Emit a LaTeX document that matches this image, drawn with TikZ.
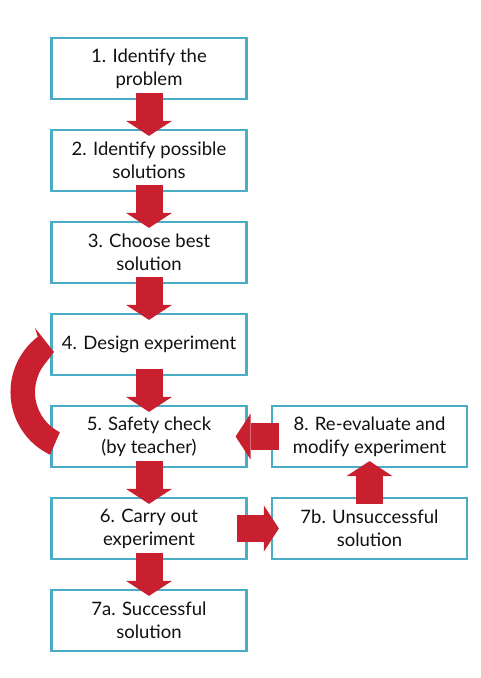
\documentclass[tikz,border=0pt]{standalone}
\usepackage{fontspec}
\setmainfont{Lato}
\usetikzlibrary{arrows.meta,calc}
\definecolor{boxblue}{HTML}{4BACC6}
\definecolor{arrred}{HTML}{C8202F}
\definecolor{txt}{HTML}{111111}
\begin{document}
\begin{tikzpicture}[x=1pt,y=1pt,
  stepbox/.style={draw=boxblue, line width=2.2pt, fill=white, minimum width=195pt,
    minimum height=61pt, inner sep=0pt, align=center,
    font=\fontsize{18.5}{23}\selectfont, text=txt},
  bigarrow/.style={draw=arrred, line width=27pt,
    -{Triangle[width=46pt,length=15pt,line width=0pt]}},
  curvearrow/.style={fill=arrred}
]
\useasboundingbox (0,0) rectangle (480,678);
\node[stepbox] (b1) at (149,609.5) {1. Identify the\\problem};
\node[stepbox] (b2) at (149,517.5) {2. Identify possible\\solutions};
\node[stepbox] (b3) at (149,425.5) {3. Choose best\\solution};
\node[stepbox] (b4) at (149,333.5) {4. Design experiment};
\node[stepbox] (b5) at (149,241.5) {5. Safety check\\(by teacher)};
\node[stepbox] (b6) at (149,149.5) {6. Carry out\\experiment};
\node[stepbox] (b7a) at (149,57.5) {7a. Successful\\solution};
\node[stepbox] (b8) at (369.5,241.5) {8. Re-evaluate and\\modify experiment};
\node[stepbox] (b7b) at (369.5,149.5) {7b. Unsuccessful\\solution};

\draw[bigarrow] ([yshift=7pt]b1.south) -- ([yshift=-7pt]b2.north);
\draw[bigarrow] ([yshift=7pt]b2.south) -- ([yshift=-7pt]b3.north);
\draw[bigarrow] ([yshift=7pt]b3.south) -- ([yshift=-7pt]b4.north);
\draw[bigarrow] ([yshift=7pt]b4.south) -- ([yshift=-7pt]b5.north);
\draw[bigarrow] ([yshift=7pt]b5.south) -- ([yshift=-7pt]b6.north);
\draw[bigarrow] ([yshift=7pt]b6.south) -- ([yshift=-7pt]b7a.north);
\draw[bigarrow] ([xshift=-11pt]b6.east) -- ([xshift=8pt]b7b.west);
\draw[bigarrow] ([xshift=8pt]b8.west) -- ([xshift=-12pt]b5.east);
\draw[bigarrow] ([yshift=-7pt]b7b.north) -- ([yshift=7pt]b8.south);

\coordinate (cc) at (80,286);
\fill[curvearrow] ($(cc)+(244.5:69.5)$) arc[start angle=244.5, end angle=127.4, radius=69.5]
  -- (35,350) -- (54,326) -- ($(cc)+(140.4:45)$)
  arc[start angle=140.4, end angle=243.4, radius=45] -- cycle;
\end{tikzpicture}
\end{document}
